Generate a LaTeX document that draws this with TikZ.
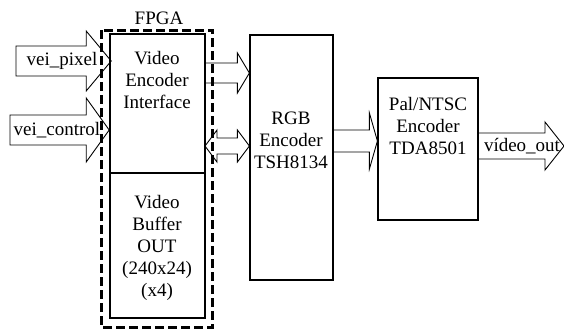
\documentclass[tikz,border=0pt]{standalone}
\usepackage{fontspec}
\setmainfont{Liberation Serif}
\usepackage{tikz}
\usetikzlibrary{calc, positioning}

% hollow block arrow: start, tip, shaft half-width, head half-width, head length
\newcommand{\fatarrow}[5]{%
  \draw[fat] let \p1=(#1), \p2=(#2) in
    (\x1,\y1-#3) -- (\x2-#5,\y1-#3) -- (\x2-#5,\y1-#4) -- (\x2,\y1)
    -- (\x2-#5,\y1+#4) -- (\x2-#5,\y1+#3) -- (\x1,\y1+#3) -- cycle;}
% same, with a head at both ends
\newcommand{\dblarrow}[5]{%
  \draw[fat] let \p1=(#1), \p2=(#2) in
    (\x1,\y1) -- (\x1+#5,\y1-#4) -- (\x1+#5,\y1-#3) -- (\x2-#5,\y1-#3)
    -- (\x2-#5,\y1-#4) -- (\x2,\y1) -- (\x2-#5,\y1+#4) -- (\x2-#5,\y1+#3)
    -- (\x1+#5,\y1+#3) -- (\x1+#5,\y1+#4) -- cycle;}

\begin{document}
\begin{tikzpicture}[x=1pt, y=-1pt,
    font=\fontsize{19}{22}\selectfont,
    block/.style={draw, line width=1.2pt, rectangle, inner sep=0pt},
    txt/.style={align=center, inner sep=0pt},
    fat/.style={draw, line width=0.9pt, line join=miter},
    fpgaline/.style={draw, line width=3pt, dash pattern=on 9pt off 4pt}]
  \useasboundingbox (0,0) rectangle (564,330);

  % Blocks
  \node[block, line width=1.6pt, minimum width=95pt, minimum height=139pt] (vei) at (157.5,103.5) {};
  \node[block, minimum width=95pt, minimum height=145pt] (buf) at (157.5,245.5) {};
  \node[block, minimum width=83pt, minimum height=245pt] (rgb) at (291.5,157.5) {};
  \node[block, minimum width=100pt, minimum height=142pt] (pal) at (428,149) {};

  % Block texts
  \node[txt] (veitxt) at (157,80) {Video\\Encoder\\Interface};
  \node[txt] (buftxt) at (157,248) {Video\\Buffer\\OUT\\(240x24)\\(x4)};
  \node[txt] (rgbtxt) at (291,140) {RGB\\Encoder\\TSH8134};
  \node[txt] (paltxt) at (428,126) {Pal/NTSC\\Encoder\\TDA8501};

  % Inputs
  \coordinate (pixin) at (16,61);
  \coordinate (ctlin) at (10,130);
  \fatarrow{pixin}{$(pixin -| vei.west)+(2,0)$}{15pt}{30pt}{25pt}
  \fatarrow{ctlin}{ctlin -| vei.west}{15pt}{32pt}{23pt}
  \node[txt] (pixlbl) at (62,61) {vei\_pixel};
  \node[txt] (ctllbl) at (57,130) {vei\_control};

  % Buses to the RGB encoder
  \coordinate (busa) at (205,73);
  \coordinate (busb) at (205,146);
  \fatarrow{busa}{busa -| rgb.west}{10pt}{20pt}{12pt}
  \dblarrow{busb}{busb -| rgb.west}{8pt}{16pt}{12pt}

  % RGB -> Pal/NTSC -> output
  \coordinate (rgbout) at (333,141);
  \fatarrow{rgbout}{rgbout -| pal.west}{11pt}{28pt}{8pt}
  \coordinate (palout) at (478,146);
  \coordinate (vidout) at (564,146);
  \fatarrow{palout}{vidout}{13pt}{24pt}{19pt}
  \node[txt] (outlbl) at (522,146) {vídeo\_out};

  % FPGA boundary
  \draw[fpgaline] (101.5,30) rectangle (212.5,327.5);
  \node[txt] (fpga) at (159,18) {FPGA};
\end{tikzpicture}
\end{document}
